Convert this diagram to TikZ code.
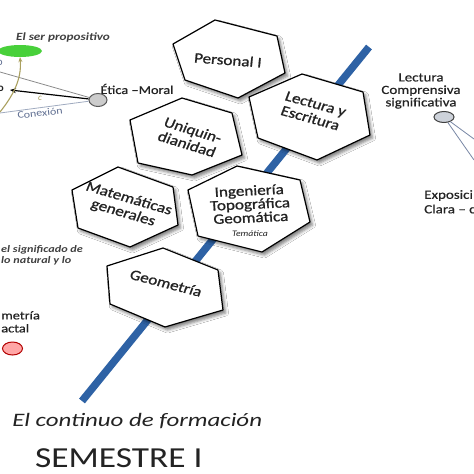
\documentclass[tikz,border=0pt]{standalone}
\usepackage{fontspec}
\setmainfont{Carlito}
\newfontfamily\semib{Carlito}[FakeBold=0.9]
\newfontfamily\semibl{Carlito}[FakeBold=0.5]
\usetikzlibrary{shadows.blur, arrows.meta, shapes.geometric}
\definecolor{lineblue}{RGB}{46,98,165}
\definecolor{txt}{RGB}{35,35,35}
\definecolor{blobgreen}{RGB}{72,208,58}
\definecolor{olivec}{RGB}{170,160,95}
\definecolor{slatec}{RGB}{120,135,165}
\definecolor{conexc}{RGB}{95,110,145}
\definecolor{dotfill}{RGB}{205,210,218}
\tikzset{
  hexa/.style={draw=black, fill=white, line width=1.2pt, line join=round,
    blur shadow={shadow xshift=2.5pt, shadow yshift=-3pt, shadow blur radius=3pt, shadow opacity=50}},
  hextext/.style={font=\semib\fontsize{14.5}{15}\selectfont, text=txt, align=center, inner sep=0pt, xscale=1.18},
  sidetext/.style={font=\semibl\fontsize{12.5}{12.5}\selectfont, text=txt, inner sep=0pt, xscale=1.2},
  dot/.style={ellipse, inner sep=0pt, line width=1pt}
}
\begin{document}
\begin{tikzpicture}[x=1pt,y=-1pt]
\useasboundingbox (0,0) rectangle (474,474);
\fill[white] (0,0) rectangle (474,474);

% timeline
\coordinate (lineS) at (82,401);
\coordinate (lineE) at (369,47);
\draw[line width=7.5pt, color=lineblue] (lineS) -- (lineE);

% hexagons
\draw[hexa] (173,44) -- (215,20) -- (277,36) -- (285,73) -- (238,98) -- (185,80) -- cycle;
\draw[hexa] (249,97) -- (302,74) -- (363,92) -- (370,135) -- (317,160) -- (258,138) -- cycle;
\draw[hexa] (130,120) -- (182,98) -- (232,113) -- (242,155) -- (192,175) -- (138,163) -- cycle;
\draw[hexa] (72,190) -- (118,167) -- (173,187) -- (178,225) -- (130,247) -- (78,228) -- cycle;
\draw[hexa] (188,190) -- (237,166) -- (300,180) -- (310,222) -- (262,252) -- (198,236) -- cycle;
\draw[hexa] (107,266) -- (163,248) -- (218,270) -- (223,310) -- (165,327) -- (110,304) -- cycle;

\node[hextext, rotate=-5] (personal) at (228,60) {Personal I};
\node[hextext, rotate=-18] (lectura) at (313,111) {Lectura y\\Escritura};
\node[hextext, rotate=-20] (uniq) at (190,137) {Uniquin-\\dianidad};
\node[hextext, rotate=-19] (mate) at (126,206) {Matemáticas\\generales};
\node[hextext, rotate=3, font=\semib\fontsize{14.5}{13.5}\selectfont] (ingen) at (250,204) {Ingeniería\\Topográfica\\Geomática};
\node[font=\itshape\fontsize{8.5}{9}\selectfont, text=txt, xscale=1.15, inner sep=0pt] (tematica) at (250,234) {Temática};
\node[hextext, rotate=-17] (geom) at (166,283) {Geometría};

% left cluster
\node[font=\bfseries\itshape\fontsize{11}{11}\selectfont, text=black!75, xscale=1.2, inner sep=0pt] (serprop) at (63,38) {El ser propositivo};
\node[ellipse, fill=blobgreen, minimum width=44pt, minimum height=12pt, inner sep=0pt] (blob) at (20,51) {};
\node[anchor=east, font=\fontsize{11}{11}\selectfont, text=conexc, inner sep=0pt] (oblue) at (3,63) {o};
\node[anchor=east, font=\bfseries\fontsize{11}{11}\selectfont, text=txt, inner sep=0pt] (oblack) at (4,89) {o};
\node[dot, draw=black!65, fill=black!20, minimum width=18pt, minimum height=13pt] (etica) at (98,100) {};
\node[sidetext, font=\semibl\fontsize{12}{12}\selectfont] (eticalbl) at (137,89) {Ética –Moral};
\coordinate (gA) at (0,72);
\coordinate (arrT) at (10,90);
\coordinate (gB) at (0,113);
\coordinate (cS) at (0,112);
\draw[black!45, line width=0.8pt] (etica) -- (gA);
\draw[slatec!70, line width=0.8pt] (etica) -- (gB);
\draw[black, line width=1.2pt, -{Stealth[length=6pt,width=5pt]}] (etica) -- (arrT);
\draw[olivec, line width=1.1pt, -{Stealth[length=5pt,width=4pt]}] (cS) .. controls (12,97) and (22,80) .. (blob.south);
\node[font=\itshape\fontsize{9}{9}\selectfont, text=olivec, inner sep=0pt] (clbl) at (40,98) {c};
\node[font=\fontsize{10}{10}\selectfont, text=conexc, rotate=6, xscale=1.2, inner sep=0pt] (conex) at (40,113) {Conexión};

\node[anchor=north west, align=left, font=\bfseries\itshape\fontsize{10}{11}\selectfont, text=black!75, xscale=1.22, inner sep=0pt] (signif) at (1,245) {el significado de\\lo natural y lo};
\node[anchor=north west, align=left, sidetext, font=\semibl\fontsize{12}{13}\selectfont] (fract) at (1,311) {metría\\actal};
\node[dot, draw=red!70!black, fill=red!35, minimum width=20pt, minimum height=13pt] (fracdot) at (12.5,348.5) {};

% right cluster
\node[sidetext, align=center] (lcs) at (421,91) {Lectura\\Comprensiva\\significativa};
\node[dot, draw=black!75, fill=dotfill, minimum width=20pt, minimum height=11pt] (lcsdot) at (444,117) {};
\coordinate (rA) at (474,139);
\coordinate (rB) at (474,160);
\draw[slatec, line width=0.8pt] (lcsdot) -- (rA);
\draw[slatec, line width=0.8pt] (lcsdot) -- (rB);
\node[anchor=north west, align=left, sidetext, font=\semibl\fontsize{12.5}{14.5}\selectfont] (expo) at (424,190) {Exposici\\Clara – c};

% bottom
\node[anchor=base west, font=\itshape\fontsize{19}{19}\selectfont, text=txt, xscale=1.31, inner sep=0pt] (cont) at (12,426) {El continuo de formación};
\node[anchor=base west, font=\fontsize{29}{29}\selectfont, text=txt, xscale=1.22, inner sep=0pt] (sem) at (35,467) {SEMESTRE I};
\end{tikzpicture}
\end{document}
